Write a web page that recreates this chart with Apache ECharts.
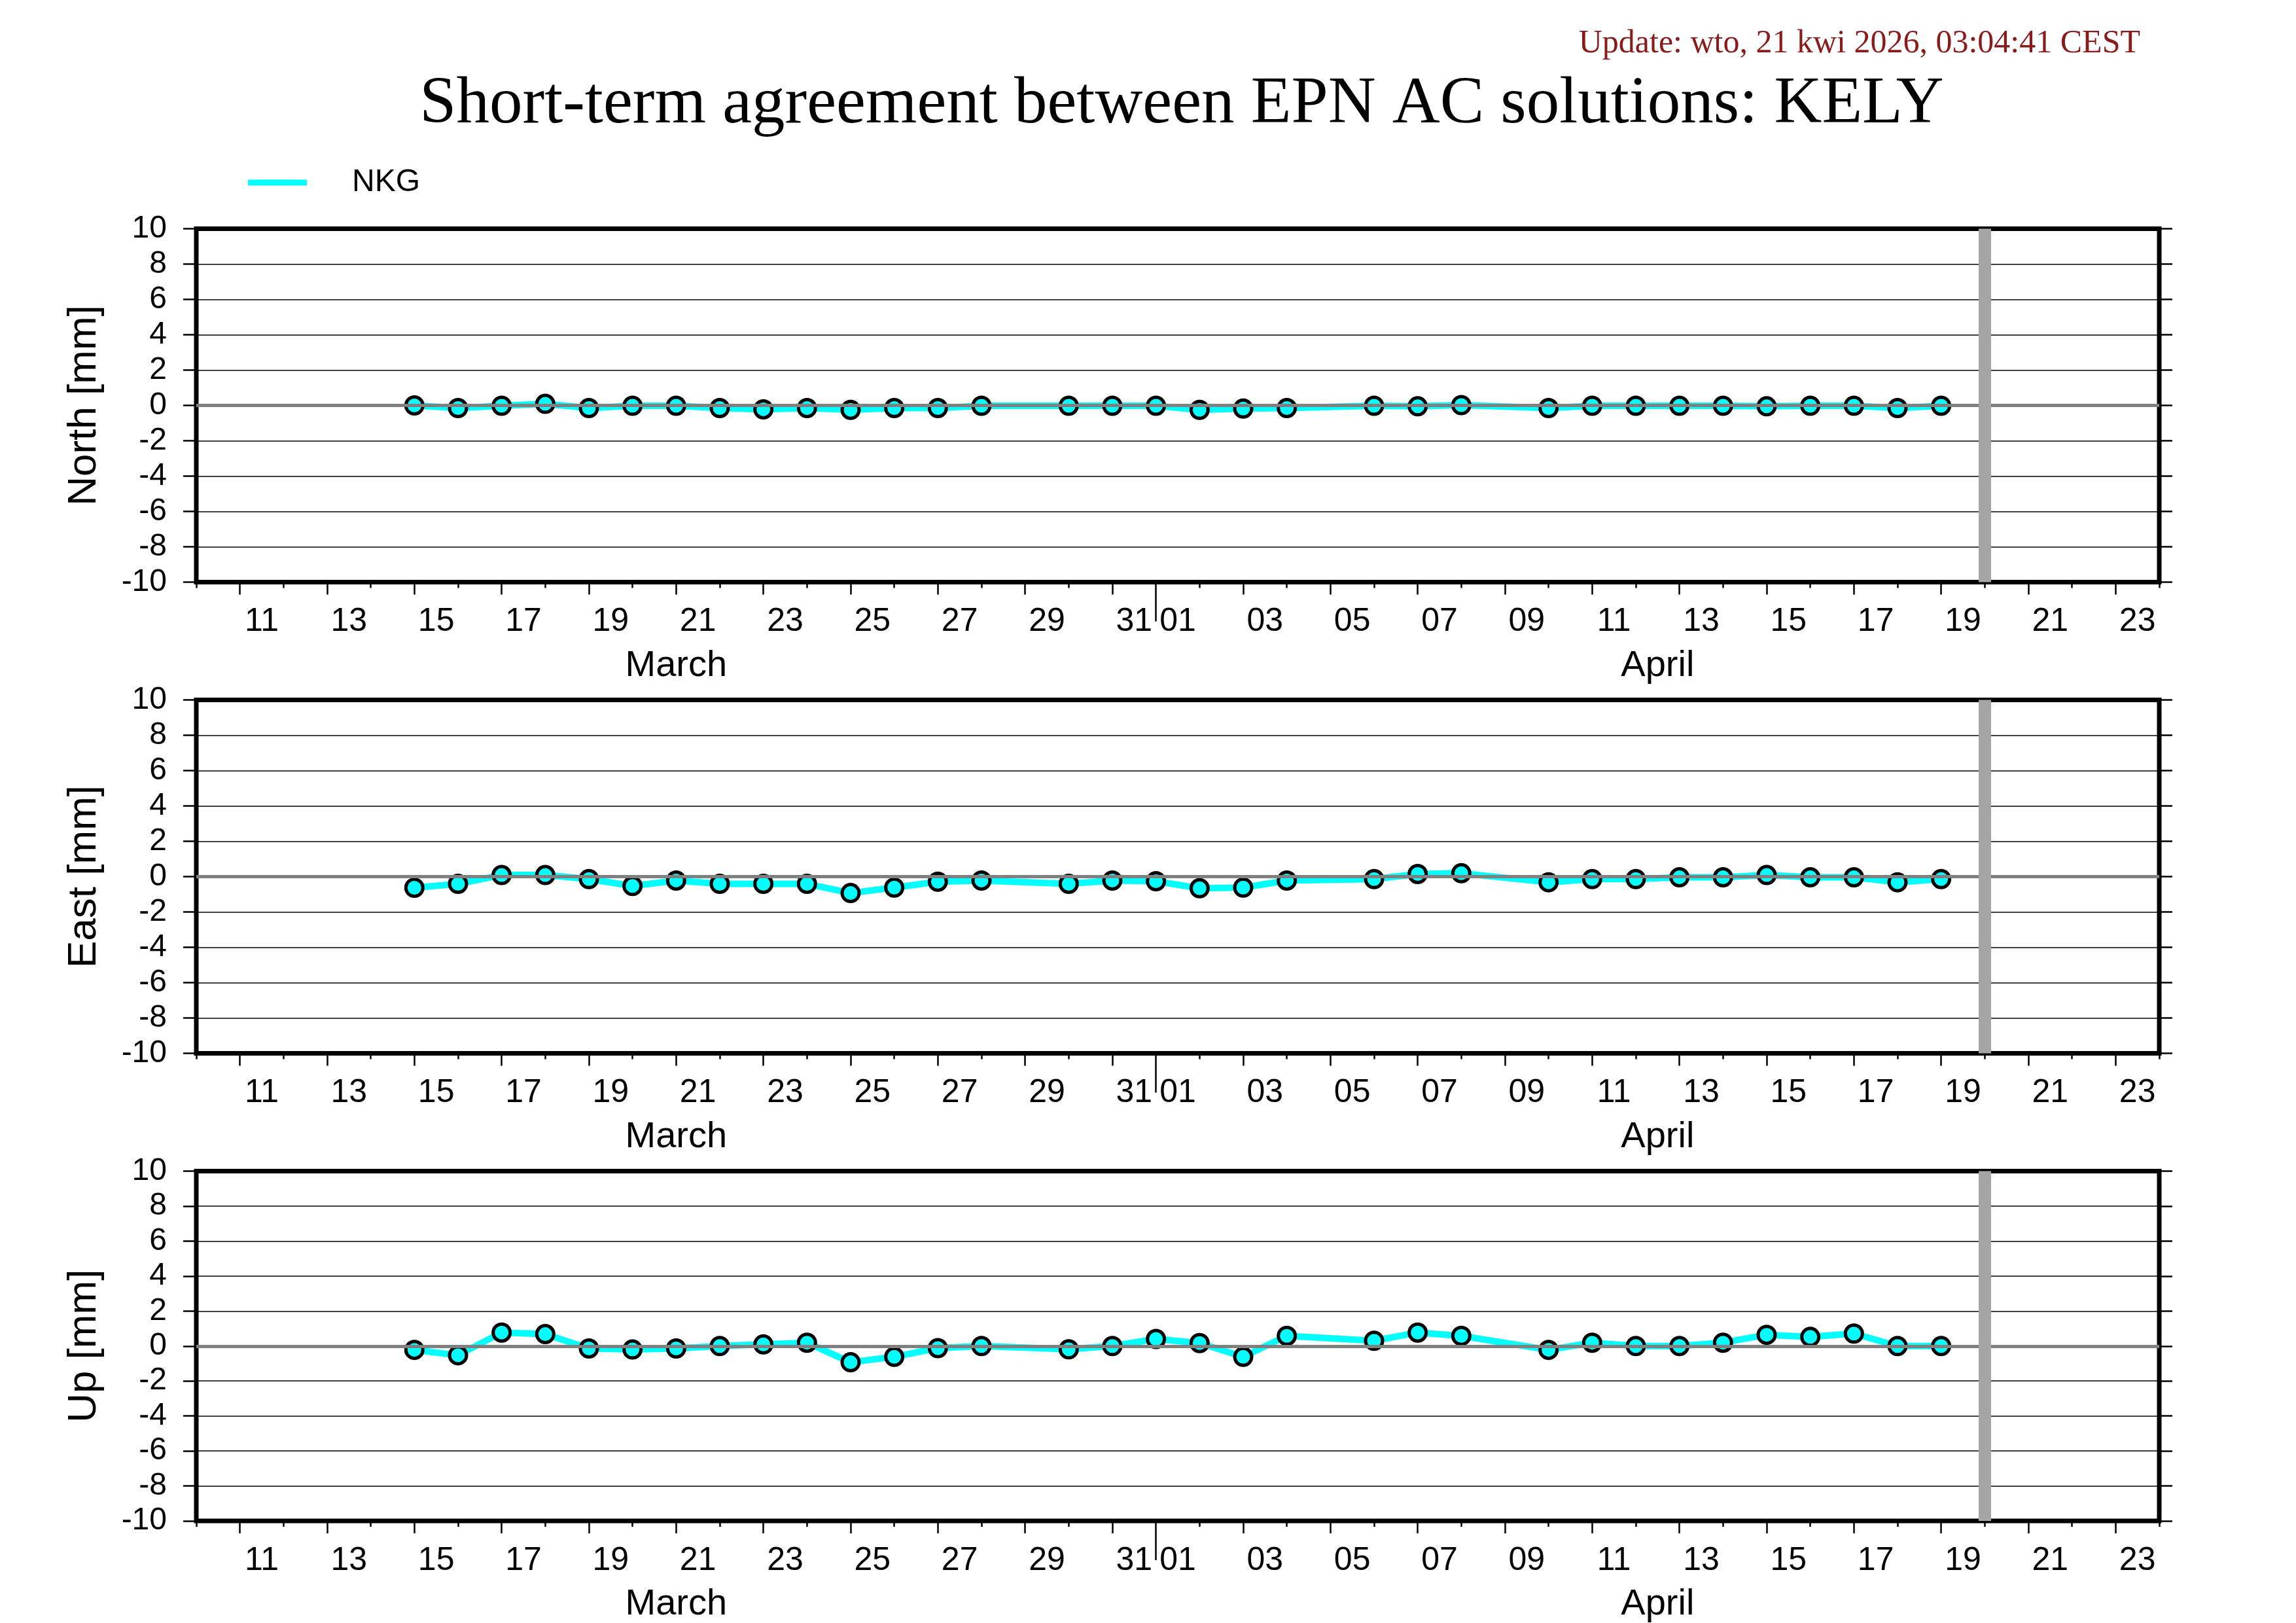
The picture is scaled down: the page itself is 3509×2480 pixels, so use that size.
<!DOCTYPE html>
<html>
<head>
<meta charset="utf-8">
<title>Short-term agreement between EPN AC solutions: KELY</title>
<script src="https://cdn.jsdelivr.net/npm/echarts@6/dist/echarts.min.js"></script>
<style>
  html, body { margin: 0; padding: 0; background: #fff; }
  #chart { width: 3509px; height: 2480px; }
</style>
</head>
<body>
<div id="chart"></div>
<script>
// days are counted from 1 March (1 April = 32)
var obsDays = [15, 16, 17, 18, 19, 20, 21, 22, 23, 24, 25, 26, 27, 28, 30, 31,
  32, 33, 34, 35, 37, 38, 39, 41, 42, 43, 44, 45, 46, 47, 48, 49, 50];

var northNKG = [0.0, -0.15, -0.02, 0.09, -0.15, -0.02, -0.02, -0.15, -0.22, -0.15, -0.25, -0.15, -0.15, -0.02, -0.02, -0.02,
  -0.02, -0.25, -0.18, -0.15, -0.02, -0.05, 0.02, -0.15, -0.02, -0.02, -0.02, -0.02, -0.05, -0.02, -0.02, -0.15, -0.02];
var eastNKG = [-0.63, -0.41, 0.09, 0.09, -0.14, -0.53, -0.22, -0.41, -0.41, -0.41, -0.93, -0.62, -0.29, -0.22, -0.41, -0.22,
  -0.26, -0.66, -0.62, -0.22, -0.14, 0.15, 0.19, -0.32, -0.14, -0.14, -0.04, -0.04, 0.09, -0.04, -0.04, -0.32, -0.14];
var upNKG = [-0.22, -0.53, 0.77, 0.68, -0.14, -0.20, -0.14, 0.0, 0.09, 0.19, -0.93, -0.62, -0.12, 0.0, -0.19, 0.0,
  0.40, 0.17, -0.62, 0.58, 0.30, 0.77, 0.58, -0.22, 0.19, 0.0, 0.0, 0.19, 0.64, 0.52, 0.71, 0.0, 0.0];

var panelNames = ["North [mm]", "East [mm]", "Up [mm]"];
var panelData = [northNKG, eastNKG, upNKG];

// x axis: 10 March .. 24 April
var dayMin = 10, dayMax = 55;
var marchLabels = ["11", "13", "15", "17", "19", "21", "23", "25", "27", "29", "31"];
var aprilLabels = ["01", "03", "05", "07", "09", "11", "13", "15", "17", "19", "21", "23"];
var monthNames = ["March", "April"];
var monthBoundary = 32;
var todayMark = 51; // 20 April

var yTickValues = [-10, -8, -6, -4, -2, 0, 2, 4, 6, 8, 10];

// tick / label positions derived from the label lists
var labelPos = [], labelText = {}, longTicks = [], shortTicks = [];
marchLabels.forEach(function (s) {
  var d = parseInt(s, 10);
  labelPos.push(d + 0.5); labelText[d + 0.5] = s; longTicks.push(d);
});
aprilLabels.forEach(function (s) {
  var d = 31 + parseInt(s, 10);
  labelPos.push(d + 0.5); labelText[d + 0.5] = s;
  if (d !== monthBoundary) longTicks.push(d);
});
for (var d = dayMin; d <= dayMax; d++) {
  if (longTicks.indexOf(d) < 0 && d !== monthBoundary) shortTicks.push(d);
}
var monthPos = [(dayMin + monthBoundary) / 2, (monthBoundary + dayMax) / 2];

var sans = "Liberation Sans";
var tops = [349.5, 1069.5, 1789.5];

var grid = [], xAxis = [], yAxis = [], series = [];
tops.forEach(function (top, i) {
  grid.push({
    left: 300, width: 3000, top: top, height: 540,
    show: true, borderColor: "#000", borderWidth: 7, backgroundColor: "transparent"
  });
  // long ticks + day labels
  xAxis.push({
    gridIndex: i, type: "value", min: dayMin, max: dayMax, position: "bottom",
    axisLine: { show: false, onZero: false }, splitLine: { show: false },
    axisTick: { show: true, customValues: longTicks, length: 19, lineStyle: { color: "#000", width: 2.5 } },
    axisLabel: {
      customValues: labelPos, margin: 36,
      formatter: function (v) { return labelText[v] || ""; },
      fontFamily: sans, fontSize: 50, color: "#000"
    }
  });
  // short ticks
  xAxis.push({
    gridIndex: i, type: "value", min: dayMin, max: dayMax, position: "bottom",
    axisLine: { show: false, onZero: false }, splitLine: { show: false },
    axisTick: { show: true, customValues: shortTicks, length: 9, lineStyle: { color: "#000", width: 2.5 } },
    axisLabel: { show: false }
  });
  // month boundary + month names
  xAxis.push({
    gridIndex: i, type: "value", min: dayMin, max: dayMax, position: "bottom",
    axisLine: { show: false, onZero: false }, splitLine: { show: false },
    axisTick: { show: true, customValues: [monthBoundary], length: 60, lineStyle: { color: "#000", width: 2.5 } },
    axisLabel: {
      customValues: monthPos, margin: 100,
      formatter: function (v) { return monthNames[monthPos.indexOf(v)] || ""; },
      fontFamily: sans, fontSize: 56, color: "#000"
    }
  });

  yAxis.push({
    gridIndex: i, type: "value", min: -10, max: 10, interval: 2, position: "left",
    name: panelNames[i], nameLocation: "middle", nameGap: 140,
    nameTextStyle: { fontFamily: sans, fontSize: 62, color: "#000" },
    axisLine: { show: false, onZero: false },
    axisTick: { show: true, length: 20, lineStyle: { color: "#000", width: 2.5 } },
    axisLabel: {
      margin: 45, fontFamily: sans, fontSize: 48, color: "#000",
      customValues: yTickValues
    },
    splitLine: { show: true, lineStyle: { color: "#000", width: 1.5 } }
  });
  yAxis.push({
    gridIndex: i, type: "value", min: -10, max: 10, interval: 2, position: "right",
    axisLine: { show: false, onZero: false },
    axisTick: { show: true, length: 20, lineStyle: { color: "#000", width: 2.5 } },
    axisLabel: { show: false },
    splitLine: { show: false }
  });

  series.push({
    name: "NKG", type: "line",
    xAxisIndex: i * 3, yAxisIndex: i * 2,
    data: obsDays.map(function (day, k) { return [day, panelData[i][k]]; }),
    symbol: "circle", symbolSize: 26,
    lineStyle: { color: "#00ffff", width: 10 },
    itemStyle: { color: "#00ffff", borderColor: "#000", borderWidth: 5 },
    emphasis: { disabled: true },
    markLine: {
      silent: true, symbol: "none", animation: false,
      label: { show: false },
      data: [
        { yAxis: 0, lineStyle: { color: "#808080", width: 5, type: "solid" } },
        { xAxis: todayMark, lineStyle: { color: "#a6a6a6", width: 19, type: "solid" } }
      ]
    }
  });
});

var myChart = echarts.init(document.getElementById("chart"));
var option = {
  animation: false,
  backgroundColor: "#fff",
  graphic: [
    {
      type: "text", x: 3271, y: 67,
      style: { text: "Update: wto, 21 kwi 2026, 03:04:41 CEST", font: '50px "Liberation Serif"',
        fill: "#8b1a1a", align: "right", verticalAlign: "middle" }
    },
    {
      type: "text", x: 1806, y: 160,
      style: { text: "Short-term agreement between EPN AC solutions: KELY", font: '101px "Liberation Serif"',
        fill: "#000", align: "center", verticalAlign: "middle" }
    }
  ],
  legend: {
    data: ["NKG"], left: 374, top: 250,
    icon: "rect", itemWidth: 90, itemHeight: 9,
    itemStyle: { borderWidth: 0 },
    textStyle: { fontFamily: sans, fontSize: 48, color: "#000", padding: [0, 0, 0, 64] }
  },
  grid: grid,
  xAxis: xAxis,
  yAxis: yAxis,
  series: series
};
myChart.setOption(option);
window.addEventListener("resize", function () {
  myChart.resize();
});
</script>
</body>
</html>
